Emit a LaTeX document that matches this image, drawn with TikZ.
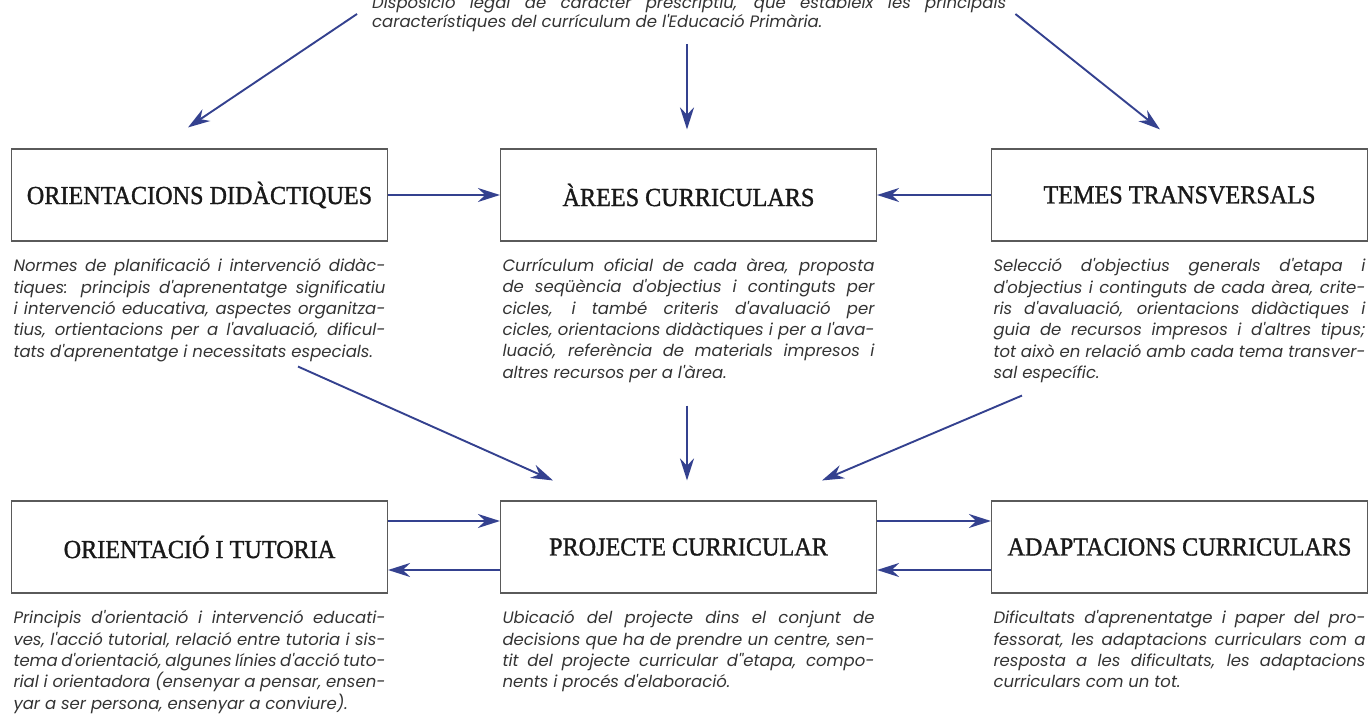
\documentclass[tikz,border=0pt]{standalone}
\usepackage{fontspec}
\setmainfont{Liberation Serif}
\newfontfamily\headfont{Liberation Serif}[FakeStretch=0.93, FakeBold=1.2]
\newfontfamily\descfont{Poppins}
\usetikzlibrary{positioning,arrows.meta}
\definecolor{arrowblue}{HTML}{34418F}
\definecolor{boxgray}{HTML}{5A5A5A}
\tolerance=9999
\hyphenpenalty=10000
\tikzset{
  box/.style={draw=boxgray, line width=1.1pt, minimum width=376pt, minimum height=92pt,
    text=black!90, font=\headfont\fontsize{26}{30}\selectfont},
  desc/.style={text width=372pt, align=justify, inner sep=0pt, text=black!80,
    font=\descfont\itshape\fontsize{16.5}{21.3}\selectfont},
  arr/.style={draw=arrowblue, line width=1.9pt, -{Stealth[length=22pt,width=14pt]}}
}
\begin{document}
\begin{tikzpicture}[x=1pt, y=-1pt]
  \useasboundingbox (0,0) rectangle (1369,714);
  % Boxes
  \node[box] (ori) at (199.5,195) {ORIENTACIONS DIDÀCTIQUES};
  \node[box] (are) at (688.5,195) {ÀREES CURRICULARS};
  \node[box] (tem) at (1179.5,195) {TEMES TRANSVERSALS};
  \node[box] (ort) at (199.5,547) {ORIENTACIÓ I TUTORIA};
  \node[box] (proj) at (688.5,547) {PROJECTE CURRICULAR};
  \node[box] (ada) at (1179.5,547) {ADAPTACIONS CURRICULARS};

  % Descriptions
  \node[desc, text width=634pt, anchor=base west, font=\descfont\itshape\fontsize{16.5}{19}\selectfont]
    (disp) at (372,9) {Disposició legal de caràcter prescriptiu, que estableix les principals\linebreak
    característiques del currículum de l'Educació Primària.};
  \node[desc, below=17pt of ori] (oridesc) {Normes de planificació i intervenció didàc-\linebreak
    tiques: principis d'aprenentatge significatiu\linebreak
    i intervenció educativa, aspectes organitza-\linebreak
    tius, ortientacions per a l'avaluació, dificul-\linebreak
    tats d'aprenentatge i necessitats especials.};
  \node[desc, below=17pt of are] (aredesc) {Currículum oficial de cada àrea, proposta\linebreak
    de seqüència d'objectius i continguts per\linebreak
    cicles, i també criteris d'avaluació per\linebreak
    cicles, orientacions didàctiques i per a l'ava-\linebreak
    luació, referència de materials impresos i\linebreak
    altres recursos per a l'àrea.};
  \node[desc, below=17pt of tem] (temdesc) {Selecció d'objectius generals d'etapa i\linebreak
    d'objectius i continguts de cada àrea, crite-\linebreak
    ris d'avaluació, orientacions didàctiques i\linebreak
    guia de recursos impresos i d'altres tipus;\linebreak
    tot això en relació amb cada tema transver-\linebreak
    sal específic.};
  \node[desc, below=17pt of ort] (ortdesc) {Principis d'orientació i intervenció educati-\linebreak
    ves, l'acció tutorial, relació entre tutoria i sis-\linebreak
    tema d'orientació, algunes línies d'acció tuto-\linebreak
    rial i orientadora (ensenyar a pensar, ensen-\linebreak
    yar a ser persona, ensenyar a conviure).};
  \node[desc, below=17pt of proj] (projdesc) {Ubicació del projecte dins el conjunt de\linebreak
    decisions que ha de prendre un centre, sen-\linebreak
    tit del projecte curricular d''etapa, compo-\linebreak
    nents i procés d'elaboració.};
  \node[desc, below=17pt of ada] (adadesc) {Dificultats d'aprenentatge i paper del pro-\linebreak
    fessorat, les adaptacions curriculars com a\linebreak
    resposta a les dificultats, les adaptacions\linebreak
    curriculars com un tot.};

  % Arrows from the top
  \draw[arr] ([shift={(-15,5)}]disp.base west) -- ([shift={(-11.5,-21)}]ori.north);
  \draw[arr] ([shift={(-1.5,35)}]disp.base west -| are.north) -- ([shift={(-1.5,-19)}]are.north);
  \draw[arr] ([shift={(9,5)}]disp.base east) -- ([shift={(-19.5,-19)}]tem.north);
  \draw[arr] (ori) -- (are);
  \draw[arr] (tem) -- (are);

  % Arrows into the project
  \draw[arr] ([shift={(98.5,125)}]ori.south) -- ([shift={(-135.5,-20)}]proj.north);
  \draw[arr] ([shift={(-1.5,164)}]are.south) -- ([shift={(-1.5,-20)}]proj.north);
  \draw[arr] ([shift={(-157.5,154)}]tem.south) -- ([shift={(133.5,-20)}]proj.north);
  \draw[arr] ([shift={(0,-26)}]ort.east) -- ([shift={(0,-26)}]proj.west);
  \draw[arr] ([shift={(0,23)}]proj.west) -- ([shift={(0,23)}]ort.east);
  \draw[arr] ([shift={(0,-26)}]proj.east) -- ([shift={(0,-26)}]ada.west);
  \draw[arr] ([shift={(0,23)}]ada.west) -- ([shift={(0,23)}]proj.east);
\end{tikzpicture}
\end{document}
